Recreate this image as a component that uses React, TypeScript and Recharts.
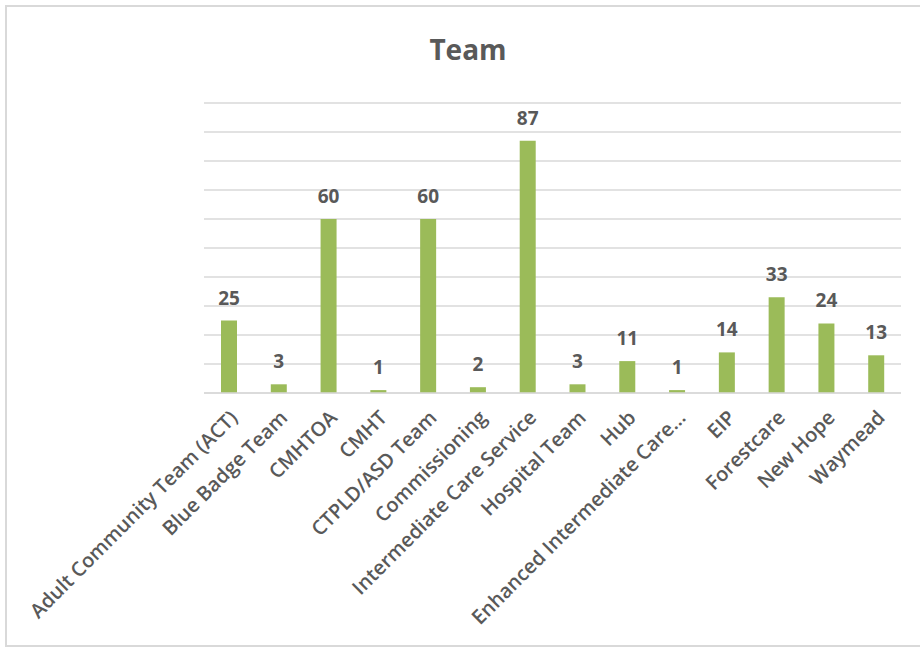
import React from "react";
import { BarChart, Bar, XAxis, YAxis, CartesianGrid, LabelList } from "recharts";

const teams = [
  "Adult Community Team (ACT)",
  "Blue Badge Team",
  "CMHTOA",
  "CMHT",
  "CTPLD/ASD Team",
  "Commissioning",
  "Intermediate Care Service",
  "Hospital Team",
  "Hub",
  "Enhanced Intermediate Care...",
  "EIP",
  "Forestcare",
  "New Hope",
  "Waymead",
];
const counts = [25, 3, 60, 1, 60, 2, 87, 3, 11, 1, 14, 33, 24, 13];
const yTicks = [0, 10, 20, 30, 40, 50, 60, 70, 80, 90, 100];

const data = teams.map((team, i) => ({ team, count: counts[i] }));

const TEXT = "#595959";
const FONT = "'Open Sans', sans-serif";

const TeamTick = (props: any) => {
  const { x, y, payload } = props;
  return (
    <g transform={`translate(${x + 5},${y + 13}) rotate(-45)`}>
      <text
        x={0}
        y={0}
        dy="0.35em"
        textAnchor="end"
        fill={TEXT}
        fontSize={20}
        fontWeight={600}
        fontFamily={FONT}
      >
        {payload.value}
      </text>
    </g>
  );
};

const App: React.FC = () => {
  return (
    <div style={{ position: "absolute", left: 0, top: 0, width: 920, height: 647, overflow: "hidden", background: "#fff" }}>
      <div
        style={{
          position: "absolute",
          left: 5,
          top: 5,
          width: 930,
          height: 638,
          border: "2px solid #d9d9d9",
        }}
      />
      <div
        style={{
          position: "absolute",
          left: 0,
          top: 30,
          width: 936,
          textAlign: "center",
          fontFamily: FONT,
          fontWeight: 700,
          fontSize: 28,
          color: TEXT,
        }}
      >
        Team
      </div>
      <div style={{ position: "absolute", left: 0, top: 0 }}>
        <BarChart
          width={920}
          height={647}
          data={data}
          barSize={16}
          margin={{ top: 103, right: 19, left: 204, bottom: 14 }}
        >
          <CartesianGrid vertical={false} stroke="#d9d9d9" strokeWidth={1.5} />
          <XAxis
            dataKey="team"
            interval={0}
            height={240}
            tickLine={false}
            axisLine={{ stroke: "#d9d9d9", strokeWidth: 1.5 }}
            tick={<TeamTick />}
          />
          <YAxis hide domain={[0, 100]} ticks={yTicks} />
          <Bar dataKey="count" fill="#9bbb59" isAnimationActive={false}>
            <LabelList
              dataKey="count"
              position="top"
              offset={16}
              fill={TEXT}
              fontSize={19}
              fontWeight={700}
              fontFamily={FONT}
            />
          </Bar>
        </BarChart>
      </div>
    </div>
  );
};

export default App;
